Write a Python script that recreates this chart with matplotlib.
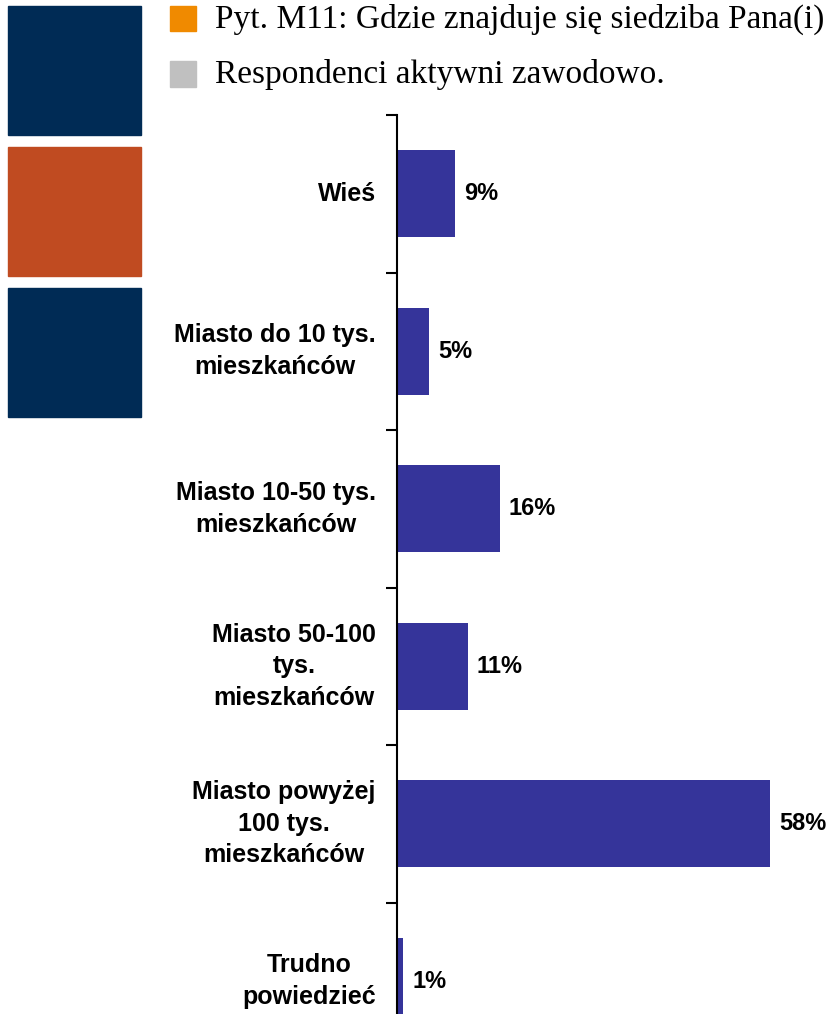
import matplotlib.pyplot as plt
from matplotlib.patches import Rectangle

categories = ["Wieś", "Miasto do 10 tys.\nmieszkańców", "Miasto 10-50 tys.\nmieszkańców",
              "Miasto 50-100\ntys.\nmieszkańców", "Miasto powyżej\n100 tys.\nmieszkańców",
              "Trudno\npowiedzieć"]
values = [9, 5, 16, 11, 58, 1]
legend_labels = ["Pyt. M11: Gdzie znajduje się siedziba Pana(i)", "Respondenci aktywni zawodowo."]
legend_colors = ["#F08A00", "#C0C0C0"]

W, H = 829, 1014
fig = plt.figure(figsize=(W / 100, H / 100), dpi=100)

# decorative blocks on the left
for y0, y1, c in [(6, 135, "#002B55"), (147, 276, "#C04B21"), (288, 417, "#002B55")]:
    fig.patches.append(Rectangle((8 / W, 1 - y1 / H), 133 / W, (y1 - y0) / H,
                                 transform=fig.transFigure, color=c, zorder=0))

# legend-like header
for i, (lab, c) in enumerate(zip(legend_labels, legend_colors)):
    ytop = 6 + i * 55.5
    fig.patches.append(Rectangle((170 / W, 1 - (ytop + 25) / H), 26 / W, 25 / H,
                                 transform=fig.transFigure, color=c))
    fig.text(215 / W, 1 - (ytop + 21.5) / H, lab, fontsize=24, family="Liberation Serif",
             va="baseline", ha="left")

band = 157.5
n = len(categories)
top = 115
bottom = top + band * n
ax = fig.add_axes([397 / W, 1 - bottom / H, (60 * 6.43) / W, (band * n) / H])
ax.set_xlim(0, 60)
ax.set_ylim(n - 0.5, -0.5)

bars = ax.barh(range(n), values, height=0.55, color="#35349A")
for i, v in enumerate(values):
    ax.text(v + 1.4, i, f"{v}%", va="center", ha="left", fontsize=17,
            fontweight="bold", family="Liberation Sans")

for s in ["top", "right", "bottom"]:
    ax.spines[s].set_visible(False)
ax.spines["left"].set_linewidth(1.5)
ax.set_xticks([])
ax.set_yticks([i - 0.5 for i in range(n)] + [n - 0.5])
ax.set_yticklabels([])
ax.tick_params(axis="y", direction="out", length=8, width=1.5)
for i, c in enumerate(categories):
    ax.text(-3.3, i, c, ha="right", va="center", multialignment="center",
            fontsize=18, fontweight="bold", family="Liberation Sans", linespacing=1.4)

fig.savefig("out.png", dpi=100)
